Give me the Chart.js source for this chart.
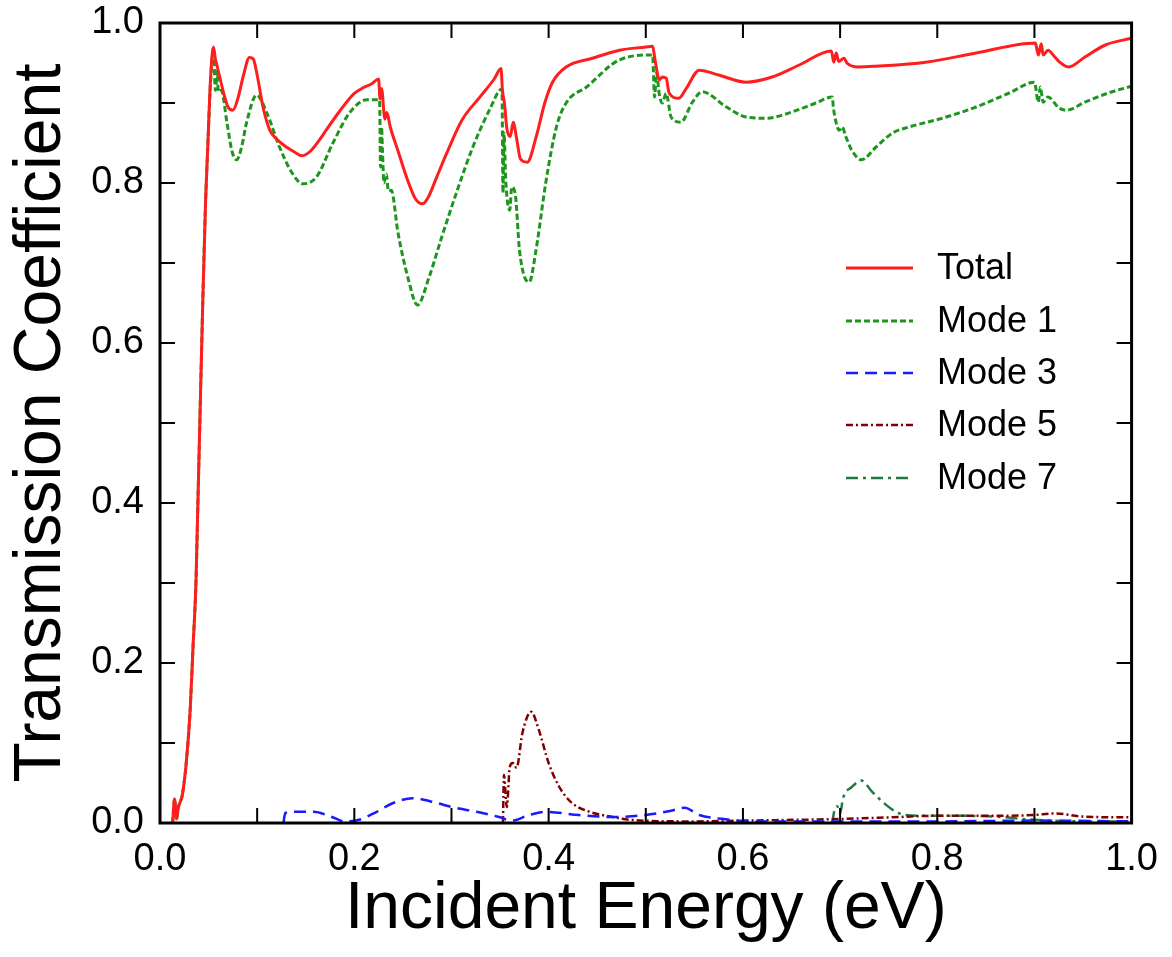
<!DOCTYPE html>
<html><head><meta charset="utf-8">
<script src="https://cdn.jsdelivr.net/npm/chart.js@4/dist/chart.umd.min.js"></script>
<style>html,body{margin:0;padding:0;background:#fff}</style>
</head><body>
<canvas id="c" width="1172" height="957"></canvas>
<script>
// ---- data ----
const xTickLabels = ['0.0','0.2','0.4','0.6','0.8','1.0'];
const yTickLabels = ['0.0','0.2','0.4','0.6','0.8','1.0'];
const seriesNames = ['Total','Mode 1','Mode 3','Mode 5','Mode 7'];

const totalE = [0.013,0.015,0.017,0.019,0.023,0.027,0.031,0.034,0.037,0.039,0.041,0.044,0.047,0.049,0.052,0.055,0.057,0.059,0.062,0.066,0.070,0.075,0.080,0.086,0.092,0.096,0.100,0.106,0.113,0.120,0.130,0.138,0.146,0.155,0.163,0.171,0.182,0.192,0.200,0.209,0.218,0.225,0.2265,0.228,0.2315,0.2335,0.237,0.245,0.255,0.263,0.270,0.276,0.285,0.295,0.311,0.329,0.344,0.351,0.3525,0.3545,0.357,0.3605,0.3635,0.367,0.371,0.378,0.387,0.396,0.404,0.418,0.445,0.473,0.500,0.507,0.5095,0.514,0.517,0.521,0.524,0.534,0.542,0.555,0.575,0.603,0.630,0.658,0.691,0.6935,0.696,0.6985,0.704,0.707,0.719,0.737,0.788,0.840,0.901,0.904,0.907,0.909,0.914,0.921,0.926,0.935,0.952,0.973,1.0];
const totalT = [0.0,0.03,0.005,0.02,0.035,0.075,0.14,0.22,0.30,0.40,0.50,0.65,0.78,0.84,0.93,0.970,0.955,0.945,0.93,0.91,0.895,0.891,0.905,0.935,0.957,0.955,0.935,0.895,0.866,0.855,0.845,0.839,0.834,0.840,0.852,0.866,0.885,0.901,0.912,0.919,0.924,0.930,0.905,0.918,0.880,0.888,0.870,0.840,0.803,0.780,0.774,0.782,0.808,0.837,0.879,0.907,0.930,0.943,0.915,0.900,0.868,0.858,0.876,0.856,0.830,0.826,0.857,0.900,0.926,0.945,0.956,0.966,0.970,0.971,0.954,0.929,0.9325,0.931,0.9125,0.906,0.919,0.941,0.935,0.926,0.9325,0.9475,0.965,0.951,0.9625,0.952,0.956,0.950,0.945,0.946,0.951,0.9625,0.975,0.960,0.974,0.960,0.966,0.9575,0.951,0.945,0.9575,0.9725,0.981];

const mode1E = [0.013,0.015,0.017,0.019,0.023,0.027,0.031,0.034,0.037,0.039,0.041,0.044,0.047,0.049,0.052,0.055,0.057,0.059,0.060,0.063,0.069,0.074,0.079,0.084,0.089,0.0995,0.110,0.123,0.136,0.147,0.161,0.178,0.195,0.213,0.226,0.227,0.228,0.229,0.2305,0.233,0.235,0.238,0.245,0.255,0.265,0.277,0.290,0.306,0.322,0.339,0.352,0.353,0.354,0.356,0.360,0.362,0.366,0.370,0.380,0.387,0.397,0.408,0.418,0.439,0.473,0.507,0.509,0.511,0.514,0.517,0.521,0.526,0.536,0.548,0.558,0.583,0.603,0.624,0.651,0.675,0.692,0.693,0.696,0.699,0.702,0.706,0.712,0.722,0.737,0.754,0.771,0.805,0.840,0.874,0.900,0.904,0.906,0.909,0.914,0.925,0.933,0.952,0.976,1.0];
const mode1T = [0.0,0.03,0.005,0.02,0.035,0.075,0.14,0.22,0.30,0.40,0.50,0.65,0.78,0.84,0.925,0.968,0.916,0.94,0.914,0.916,0.875,0.84,0.829,0.845,0.875,0.91,0.8875,0.845,0.8125,0.799,0.8075,0.85,0.8875,0.904,0.904,0.82,0.87,0.84,0.80,0.811,0.79,0.791,0.7375,0.6825,0.6475,0.6825,0.7325,0.791,0.845,0.891,0.9175,0.7875,0.8625,0.80,0.766,0.795,0.7825,0.716,0.676,0.716,0.80,0.87,0.90,0.92,0.954,0.96,0.9075,0.9375,0.91,0.90,0.912,0.8825,0.876,0.901,0.914,0.895,0.8825,0.881,0.889,0.90,0.9075,0.895,0.875,0.866,0.87,0.8575,0.841,0.829,0.845,0.8625,0.87,0.881,0.895,0.9125,0.926,0.901,0.92,0.901,0.9075,0.894,0.891,0.901,0.9125,0.921];

const mode3E = [0.127,0.129,0.137,0.158,0.177,0.190,0.205,0.223,0.240,0.260,0.285,0.300,0.326,0.349,0.362,0.380,0.397,0.431,0.465,0.500,0.525,0.540,0.555,0.580,0.610,0.700,0.800,0.900,1.0];
const mode3T = [0.0,0.0125,0.014,0.014,0.0075,0.002,0.004,0.014,0.025,0.031,0.025,0.020,0.014,0.0075,0.003,0.010,0.014,0.010,0.0075,0.010,0.015,0.019,0.010,0.005,0.002,0.002,0.002,0.003,0.002];

const mode5E = [0.353,0.354,0.357,0.360,0.363,0.367,0.373,0.382,0.390,0.400,0.411,0.424,0.442,0.466,0.483,0.550,0.600,0.700,0.750,0.800,0.850,0.900,0.920,0.950,1.0];
const mode5T = [0.0,0.06,0.02,0.07,0.075,0.069,0.1125,0.139,0.116,0.075,0.045,0.025,0.014,0.0075,0.004,0.002,0.003,0.005,0.007,0.009,0.009,0.010,0.012,0.008,0.007];

const mode7E = [0.692,0.694,0.697,0.700,0.703,0.712,0.722,0.733,0.745,0.760,0.780,0.820,0.860,0.900,0.950,1.0];
const mode7T = [0.0,0.015,0.021,0.012,0.031,0.045,0.053,0.039,0.025,0.0125,0.009,0.009,0.008,0.004,0.002,0.002];

// ---- build ----
const pts = (E, T) => E.map((e, i) => ({x: e, y: T[i]}));
const FONT = "'Liberation Sans', Arial, sans-serif";

const datasets = [
  {label: seriesNames[0], data: pts(totalE, totalT), borderColor: '#ff1e1e', borderWidth: 3, borderDash: []},
  {label: seriesNames[1], data: pts(mode1E, mode1T), borderColor: '#1e961e', borderWidth: 3, borderDash: [6, 3]},
  {label: seriesNames[2], data: pts(mode3E, mode3T), borderColor: '#1a1aff', borderWidth: 2.5, borderDash: [12, 7]},
  {label: seriesNames[3], data: pts(mode5E, mode5T), borderColor: '#800000', borderWidth: 2.5, borderDash: [7, 3, 2, 3]},
  {label: seriesNames[4], data: pts(mode7E, mode7T), borderColor: '#1f7a45', borderWidth: 2.5, borderDash: [12, 5, 3, 5]}
].map(d => Object.assign(d, {pointRadius: 0, fill: false, cubicInterpolationMode: 'monotone'}));

const frameAndTicks = {
  id: 'frameAndTicks',
  afterDatasetsDraw(chart) {
    const {ctx, chartArea: a, scales: {x, y}} = chart;
    ctx.save();
    ctx.strokeStyle = '#000';
    ctx.lineWidth = 2;
    const L = 15;
    for (let i = 1; i < 10; i++) {
      const v = i / 10;
      const px = x.getPixelForValue(v);
      const py = y.getPixelForValue(v);
      ctx.beginPath();
      ctx.moveTo(px, a.bottom); ctx.lineTo(px, a.bottom - L);
      ctx.moveTo(px, a.top); ctx.lineTo(px, a.top + L);
      ctx.moveTo(a.left, py); ctx.lineTo(a.left + L, py);
      ctx.moveTo(a.right, py); ctx.lineTo(a.right - L, py);
      ctx.stroke();
    }
    ctx.lineWidth = 3;
    ctx.strokeRect(a.left, a.top, a.right - a.left, a.bottom - a.top);
    ctx.restore();
  }
};

const lineLegend = {
  id: 'lineLegend',
  afterDraw(chart) {
    const {ctx} = chart;
    const rowsY = [268, 321, 373, 425, 478];
    ctx.save();
    ctx.font = '36px ' + FONT;
    ctx.textBaseline = 'middle';
    ctx.textAlign = 'left';
    chart.data.datasets.forEach((ds, i) => {
      const yy = rowsY[i];
      ctx.strokeStyle = ds.borderColor;
      ctx.lineWidth = ds.borderWidth;
      ctx.setLineDash(ds.borderDash);
      ctx.beginPath();
      ctx.moveTo(846, yy); ctx.lineTo(913, yy);
      ctx.stroke();
      ctx.setLineDash([]);
      ctx.fillStyle = '#000';
      ctx.fillText(ds.label, 937, yy + 1);
    });
    ctx.restore();
  }
};

new Chart(document.getElementById('c'), {
  type: 'line',
  data: {datasets},
  options: {
    responsive: false,
    animation: false,
    devicePixelRatio: 1,
    layout: {padding: {top: 23, right: 39, left: 0, bottom: 0}},
    plugins: {legend: {display: false}, tooltip: {enabled: false}},
    scales: {
      x: {
        type: 'linear', min: 0, max: 1,
        grid: {display: false, drawTicks: false},
        border: {display: false},
        ticks: {stepSize: 0.2, padding: 14, color: '#000', font: {family: FONT, size: 38},
                callback: (v) => xTickLabels[Math.round(v * 5)]},
        title: {display: true, text: 'Incident Energy (eV)', color: '#000',
                font: {family: FONT, size: 66, lineHeight: 1}, padding: {top: 0, bottom: 14}},
        afterFit: s => { s.height = 134; }
      },
      y: {
        type: 'linear', min: 0, max: 1,
        grid: {display: false, drawTicks: false},
        border: {display: false},
        ticks: {stepSize: 0.2, padding: 16, color: '#000', font: {family: FONT, size: 38},
                callback: (v) => yTickLabels[Math.round(v * 5)]},
        title: {display: true, text: 'Transmission Coefficient', color: '#000',
                font: {family: FONT, size: 66, lineHeight: 1}, padding: {top: 9, bottom: 0}},
        afterFit: s => { s.width = 160; s.paddingTop = 0; s.paddingBottom = 0; }
      }
    }
  },
  plugins: [frameAndTicks, lineLegend]
});
</script>
</body></html>
